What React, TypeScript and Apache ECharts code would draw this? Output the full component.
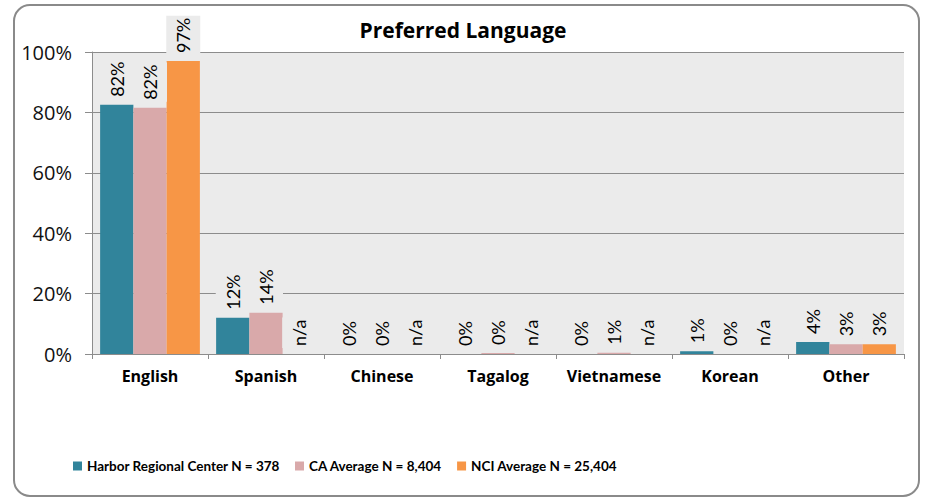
import React, { useEffect, useRef } from "react";
import * as echarts from "echarts";

const categories = ["English", "Spanish", "Chinese", "Tagalog", "Vietnamese", "Korean", "Other"];
const harborValues: number[] = [82.5, 12, 0, 0, 0, 0.9, 4];
const harborLabels = ["82%", "12%", "0%", "0%", "0%", "1%", "4%"];
const caValues: number[] = [81.5, 13.7, 0, 0.3, 0.4, 0, 3.2];
const caLabels = ["82%", "14%", "0%", "0%", "1%", "0%", "3%"];
const nciValues: (number | null)[] = [97, null, null, null, null, null, 3.2];
const nciLabels = ["97%", "n/a", "n/a", "n/a", "n/a", "n/a", "3%"];
const seriesNames = [
  "Harbor Regional Center N = 378",
  "CA Average N = 8,404",
  "NCI Average N = 25,404",
];
const colors = ["#31849b", "#d9a9aa", "#f79646"];
const yTicks = [0, 20, 40, 60, 80, 100];

const WIDE = "'Open Sans', sans-serif";
const NARROW = "Lato, sans-serif";

export default function App() {
  const ref = useRef<HTMLDivElement>(null);
  useEffect(() => {
    if (!ref.current) return;
    const chart = echarts.init(ref.current, null, { renderer: "svg" });
    const labelBase = {
      show: true,
      position: "top" as const,
      rotate: 90,
      align: "left" as const,
      verticalAlign: "middle" as const,
      distance: 6,
      color: "#000",
      fontFamily: NARROW,
      fontSize: 18,
      backgroundColor: "#ebebeb",
      padding: [8, 2, 8, 2],
    };
    const mk = (vals: (number | null)[], labels: string[]) =>
      vals.map((v, i) => ({
        value: v === null ? 0 : v,
        label: { ...labelBase, formatter: labels[i] },
      }));
    const allData = [
      mk(harborValues, harborLabels),
      mk(caValues, caLabels),
      mk(nciValues, nciLabels),
    ];
    chart.setOption({
      animation: false,
      textStyle: { fontFamily: WIDE },
      title: {
        text: "Preferred Language",
        left: "center",
        top: 14,
        textStyle: { fontFamily: WIDE, fontSize: 21, fontWeight: "bold", color: "#000" },
      },
      legend: {
        top: 454,
        left: 68,
        itemWidth: 9,
        itemHeight: 9,
        itemGap: 15,
        icon: "rect",
        textStyle: { fontFamily: NARROW, fontSize: 13.5, color: "#000", fontWeight: "bold" },
        data: seriesNames,
      },
      grid: {
        left: 92,
        right: 22,
        top: 52,
        bottom: 145,
        show: true,
        backgroundColor: "#ebebeb",
        borderWidth: 0,
      },
      xAxis: {
        type: "category",
        data: categories,
        axisLine: { show: true, lineStyle: { color: "#8c8c8c", width: 1 } },
        axisTick: { show: true, length: 5, lineStyle: { color: "#8c8c8c" } },
        axisLabel: {
          interval: 0,
          fontFamily: WIDE,
          fontSize: 16,
          fontWeight: "bold",
          color: "#000",
          margin: 14,
        },
      },
      yAxis: {
        type: "value",
        min: 0,
        max: 100,
        interval: 20,
        axisLine: { show: true, lineStyle: { color: "#8c8c8c", width: 1 } },
        axisTick: { show: true, length: 7, lineStyle: { color: "#8c8c8c" } },
        splitLine: { show: true, lineStyle: { color: "#8c8c8c", width: 1 } },
        axisLabel: {
          fontFamily: WIDE,
          fontSize: 20,
          color: "#111",
          margin: 20,
          formatter: (v: number) => (yTicks.includes(v) ? `${v}%` : ""),
        },
      },
      series: seriesNames.map((name, i) => ({
        name,
        type: "bar",
        data: allData[i],
        itemStyle: { color: colors[i] },
        barGap: "0%",
        barCategoryGap: "14%",
      })),
      graphic: [
        {
          type: "rect",
          shape: { x: 14, y: 5, width: 905, height: 491, r: 16 },
          style: { fill: "none", stroke: "#8a8a8a", lineWidth: 2 },
          z: 100,
        },
      ],
    });
    return () => chart.dispose();
  }, []);
  return (
    <div
      ref={ref}
      style={{ position: "fixed", left: 0, top: 0, width: 926, height: 499, background: "#fff" }}
    />
  );
}
